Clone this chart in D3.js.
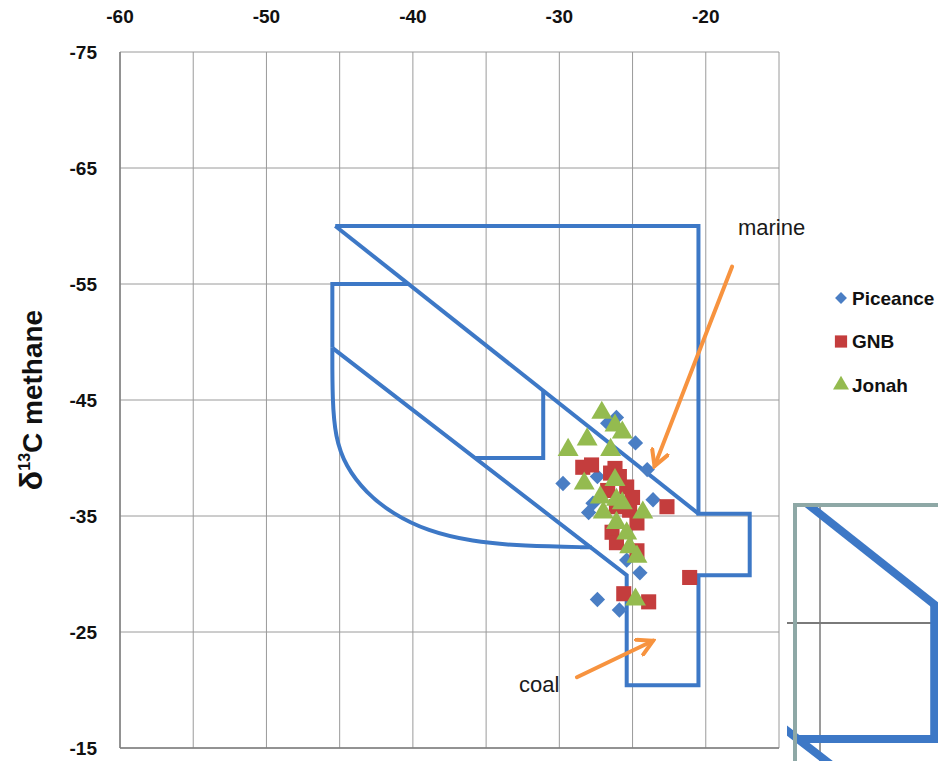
<!DOCTYPE html>
<html>
<head>
<meta charset="utf-8">
<script src="https://cdn.jsdelivr.net/npm/d3@7"></script>
<style>
  html, body { margin: 0; padding: 0; background: #fff; }
  svg { display: block; }
  text { font-family: "Liberation Sans", Arial, sans-serif; }
</style>
</head>
<body>
<svg id="chart" width="938" height="761"></svg>
<script>
// ---------------- data ----------------
const xTickLabels = [-60, -50, -40, -30, -20];
const yTickLabels = [-75, -65, -55, -45, -35, -25, -15];
const xGridValues = [-60, -55, -50, -45, -40, -35, -30, -25, -20, -15];
const yGridValues = [-75, -65, -55, -45, -35, -25, -15];

const seriesNames = ["Piceance", "GNB", "Jonah"];

const piceance = [
  [-26.1, -43.5], [-26.7, -43.0], [-24.8, -41.3], [-24.0, -39.0],
  [-29.75, -37.8], [-27.4, -38.4], [-23.6, -36.4], [-28.0, -35.3],
  [-27.7, -36.1], [-25.4, -31.2], [-24.5, -30.1], [-27.4, -27.8],
  [-25.9, -26.9]
];
const gnb = [
  [-28.4, -39.2], [-27.8, -39.4], [-26.5, -38.7], [-26.2, -39.1],
  [-25.9, -38.4], [-26.7, -37.2], [-25.4, -37.5], [-25.0, -36.6],
  [-26.1, -35.8], [-25.2, -35.5], [-22.65, -35.8], [-24.7, -34.4],
  [-26.4, -33.6], [-26.1, -32.7], [-24.7, -32.0], [-21.1, -29.7],
  [-25.6, -28.3], [-23.9, -27.6]
];
const jonah = [
  [-27.1, -43.9], [-26.2, -42.8], [-25.7, -42.2], [-28.1, -41.6],
  [-29.4, -40.7], [-26.5, -40.7], [-26.2, -38.1], [-28.3, -37.8],
  [-27.2, -36.6], [-26.1, -36.4], [-25.7, -36.1], [-27.0, -35.3],
  [-24.3, -35.3], [-26.1, -34.4], [-25.4, -33.5], [-25.2, -32.3],
  [-24.7, -31.5], [-24.8, -27.8]
];

// genetic-field boundaries
const outerBoundary = [
  [-45.3, -60], [-20.5, -60], [-20.5, -35.2], [-17.0, -35.2], [-17.0, -29.9],
  [-20.5, -29.9], [-20.5, -20.4], [-25.4, -20.4], [-25.4, -29.9], [-45.5, -49.5]
];
const upperDiagonal = [[-45.3, -60], [-20.5, -35.2]];
const boxTop = [[-40.3, -55], [-45.5, -55], [-45.5, -49.5]];
const curvedBoundary = [
  [-45.5, -49.5], [-45.5, -49.5], [-45.5, -45.0], [-45.3, -41.8], [-44.6, -39.3],
  [-43.2, -37.0], [-41.4, -35.2], [-39.0, -33.7], [-36.0, -32.8], [-32.5, -32.4],
  [-27.8, -32.3], [-27.8, -32.3]
];
const notch = [[-31.1, -45.8], [-31.1, -40.0], [-35.75, -40.0]];

// annotations
const annotationLabels = [
  { text: "marine", x: -17.8, y: -59.2 },
  { text: "coal", x: -32.75, y: -19.85 }
];
const annotationArrows = [
  { from: [-18.2, -56.5], to: [-23.5, -39.3] },
  { from: [-28.8, -21.1], to: [-23.6, -24.25] }
];

// ---------------- drawing ----------------
const svg = d3.select("#chart");
const x = d3.scaleLinear().domain([-60, -15]).range([120, 779]);
const y = d3.scaleLinear().domain([-75, -15]).range([52, 748]);

const colors = { Piceance: "#4a7ec4", GNB: "#c43d3d", Jonah: "#94bb4f" };
const lineBlue = "#3d78c6";
const orange = "#f7933f";
const gridColor = "#9a9a9a";

function drawShapes(g, xs, ys, w) {
  const lin = d3.line().x(d => xs(d[0])).y(d => ys(d[1]));
  const crv = d3.line().x(d => xs(d[0])).y(d => ys(d[1])).curve(d3.curveBasis);
  const st = sel => sel.attr("fill", "none").attr("stroke", lineBlue)
    .attr("stroke-width", w).attr("stroke-linejoin", "miter");
  g.append("path").attr("d", lin(outerBoundary)).call(st);
  g.append("path").attr("d", lin(upperDiagonal)).call(st);
  g.append("path").attr("d", lin(boxTop)).call(st);
  g.append("path").attr("d", crv(curvedBoundary)).call(st);
  g.append("path").attr("d", lin(notch)).call(st);
}

// gridlines
const grid = svg.append("g");
grid.selectAll("line.v").data(xGridValues).join("line")
  .attr("x1", d => x(d)).attr("x2", d => x(d))
  .attr("y1", y(-75)).attr("y2", y(-15))
  .attr("stroke", gridColor).attr("stroke-width", 1);
grid.selectAll("line.h").data(yGridValues).join("line")
  .attr("x1", x(-60)).attr("x2", x(-15))
  .attr("y1", d => y(d)).attr("y2", d => y(d))
  .attr("stroke", gridColor).attr("stroke-width", 1);
// axis lines
svg.append("line").attr("x1", x(-60)).attr("x2", x(-60)).attr("y1", y(-75)).attr("y2", y(-15))
  .attr("stroke", "#7f7f7f").attr("stroke-width", 1.5);
svg.append("line").attr("x1", x(-60)).attr("x2", x(-15)).attr("y1", y(-15)).attr("y2", y(-15))
  .attr("stroke", "#7f7f7f").attr("stroke-width", 1.5);

// x tick labels (top)
svg.append("g").selectAll("text").data(xTickLabels).join("text")
  .attr("x", d => x(d)).attr("y", 23)
  .attr("text-anchor", "middle").attr("font-size", 19).attr("font-weight", "bold")
  .attr("fill", "#111").text(d => d);
// y tick labels
svg.append("g").selectAll("text").data(yTickLabels).join("text")
  .attr("x", 97).attr("y", d => y(d)).attr("dy", "0.36em")
  .attr("text-anchor", "end").attr("font-size", 19).attr("font-weight", "bold")
  .attr("fill", "#111").text(d => d);

// y axis title
const yt = svg.append("text")
  .attr("transform", "translate(42,400) rotate(-90)")
  .attr("text-anchor", "middle").attr("font-size", 28).attr("font-weight", "bold").attr("fill", "#111");
yt.append("tspan").attr("font-size", 32).text("δ");
yt.append("tspan").attr("font-size", 16).attr("dy", -12).text("13");
yt.append("tspan").attr("dy", 12).text("C methane");

// boundaries
drawShapes(svg.append("g"), x, y, 4);

// markers
const sym = {
  Piceance: d3.symbol().type(d3.symbolDiamond2).size(150),
  GNB: d3.symbol().type(d3.symbolSquare2).size(290),
  Jonah: d3.symbol().type(d3.symbolTriangle).size(190)
};
const seriesData = { Piceance: piceance, GNB: gnb, Jonah: jonah };
seriesNames.forEach(name => {
  svg.append("g").selectAll("path").data(seriesData[name]).join("path")
    .attr("transform", d => `translate(${x(d[0])},${y(d[1])})`)
    .attr("d", sym[name]())
    .attr("fill", colors[name]);
});

// arrows
const defs = svg.append("defs");
defs.append("marker").attr("id", "arr")
  .attr("viewBox", "0 0 12 12").attr("refX", 10).attr("refY", 6)
  .attr("markerWidth", 20).attr("markerHeight", 20).attr("markerUnits", "userSpaceOnUse")
  .attr("orient", "auto")
  .append("path").attr("d", "M1,1 L10,6 L1,11").attr("fill", "none")
  .attr("stroke", orange).attr("stroke-width", 2.4).attr("stroke-linecap", "round");
svg.append("g").selectAll("line").data(annotationArrows).join("line")
  .attr("x1", d => x(d.from[0])).attr("y1", d => y(d.from[1]))
  .attr("x2", d => x(d.to[0])).attr("y2", d => y(d.to[1]))
  .attr("stroke", orange).attr("stroke-width", 4).attr("stroke-linecap", "round")
  .attr("marker-end", "url(#arr)");
svg.append("g").selectAll("text").data(annotationLabels).join("text")
  .attr("x", d => x(d.x)).attr("y", d => y(d.y))
  .attr("font-size", 22).attr("fill", "#1a1a1a").text(d => d.text);

// legend
const legend = svg.append("g");
const legSym = {
  Piceance: d3.symbol().type(d3.symbolDiamond2).size(90),
  GNB: d3.symbol().type(d3.symbolSquare2).size(190),
  Jonah: d3.symbol().type(d3.symbolTriangle).size(110)
};
seriesNames.forEach((name, i) => {
  const cy = 298 + i * 43.5;
  legend.append("path").attr("transform", `translate(841,${cy})`)
    .attr("d", legSym[name]()).attr("fill", colors[name]);
  legend.append("text").attr("x", 852).attr("y", cy).attr("dy", "0.36em")
    .attr("font-size", 19).attr("font-weight", "bold").attr("fill", "#111").text(name);
});

// magnified inset (2x view of the notch region)
const mag = 2;
const xi = d3.scaleLinear().domain([-35, -30]).range([820, 820 + mag * (x(-30) - x(-35))]);
const yi = d3.scaleLinear().domain([-45, -40]).range([623, 623 + mag * (y(-40) - y(-45))]);
defs.append("clipPath").attr("id", "insetClip")
  .append("rect").attr("x", 787).attr("y", 506).attr("width", 160).attr("height", 260);
const inset = svg.append("g").attr("clip-path", "url(#insetClip)");
inset.append("rect").attr("x", 787).attr("y", 506).attr("width", 160).attr("height", 260).attr("fill", "#fff");
inset.selectAll("line.v").data(xGridValues).join("line")
  .attr("x1", d => xi(d)).attr("x2", d => xi(d))
  .attr("y1", yi(-75)).attr("y2", yi(-15))
  .attr("stroke", gridColor).attr("stroke-width", 2);
inset.selectAll("line.h").data(yGridValues).join("line")
  .attr("x1", xi(-60)).attr("x2", xi(-15))
  .attr("y1", d => yi(d)).attr("y2", d => yi(d))
  .attr("stroke", "#7a7a7a").attr("stroke-width", 2);
drawShapes(inset, xi, yi, 8);
svg.append("rect").attr("x", 795).attr("y", 505).attr("width", 200).attr("height", 300)
  .attr("fill", "none").attr("stroke", "#8ea8a6").attr("stroke-width", 4);
</script>
</body>
</html>
